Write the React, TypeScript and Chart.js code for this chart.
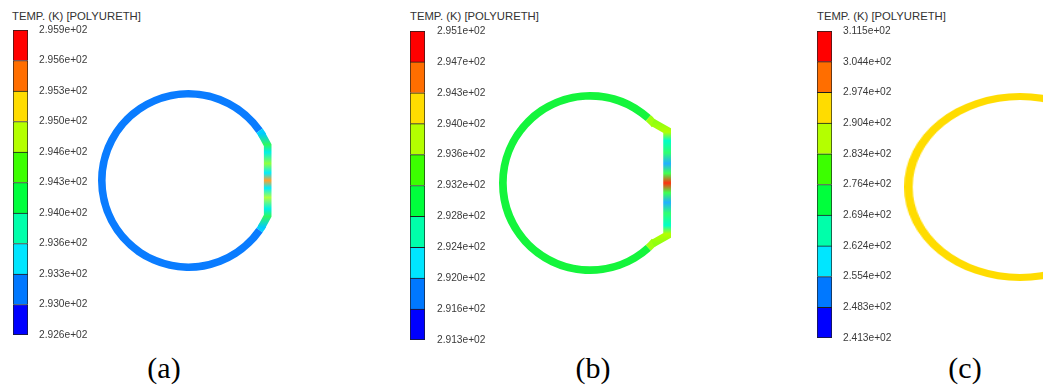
import React, { useEffect, useRef } from 'react';
import { Chart, registerables } from 'chart.js';

Chart.register(...registerables);

// ---------- DATA ----------
// colour bands of the legend, bottom -> top
const BAND_COLORS = ['#0000ff', '#0078ff', '#00e6ff', '#00ffaa', '#00ff3c', '#3cff00', '#b4ff00', '#ffdc00', '#ff6e00', '#ff0000'];
const BAND_VALUES = [1, 1, 1, 1, 1, 1, 1, 1, 1, 1];

// tick labels, top -> bottom
const LABELS_A = ['2.959e+02', '2.956e+02', '2.953e+02', '2.950e+02', '2.946e+02', '2.943e+02', '2.940e+02', '2.936e+02', '2.933e+02', '2.930e+02', '2.926e+02'];
const LABELS_B = ['2.951e+02', '2.947e+02', '2.943e+02', '2.940e+02', '2.936e+02', '2.932e+02', '2.928e+02', '2.924e+02', '2.920e+02', '2.916e+02', '2.913e+02'];
const LABELS_C = ['3.115e+02', '3.044e+02', '2.974e+02', '2.904e+02', '2.834e+02', '2.764e+02', '2.694e+02', '2.624e+02', '2.554e+02', '2.483e+02', '2.413e+02'];

const TITLE = 'TEMP. (K) [POLYURETH]';
const CAPTIONS = ['(a)', '(b)', '(c)'];

// ring segments (degrees, clockwise, starting with the open gap at the flat side)
const RING_A_SPANS = [62, 4, 290, 4];
const RING_A_COLORS = ['rgba(0,0,0,0)', '#00d0ff', '#0a7cff', '#00d0ff'];
const RING_B_SPANS = [84, 6, 264, 6];
const RING_B_COLORS = ['rgba(0,0,0,0)', '#a0ff10', '#14f53c', '#a0ff10'];
const RING_C_SPANS = [360];
const RING_C_COLORS = ['#ffdc00'];

// colours along the flat side (top -> bottom)
const FLAT_A_STOPS: [number, string][] = [
  [0, '#00c8ff'], [0.12, '#30f860'], [0.2, '#00f0e8'], [0.32, '#90ff40'], [0.42, '#00eeff'],
  [0.5, '#ffa030'], [0.58, '#00eeff'], [0.68, '#b0ff40'], [0.8, '#00f0e8'], [0.88, '#30f860'], [1, '#00c8ff'],
];
const FLAT_B_STOPS: [number, string][] = [
  [0, '#90ff10'], [0.08, '#b4ff00'], [0.15, '#00ffc8'], [0.25, '#30ff70'], [0.34, '#20b0ff'],
  [0.42, '#40ff50'], [0.5, '#ff3010'], [0.58, '#40ff50'], [0.66, '#20b0ff'], [0.75, '#30ff70'],
  [0.85, '#00ffc8'], [0.92, '#b4ff00'], [1, '#90ff10'],
];

// ---------- PLUGIN: flat (chord) side of the ring ----------
const chordPlugin = {
  id: 'chord',
  afterDatasetsDraw(chart: any, _args: any, opts: any) {
    if (!opts || !opts.enabled) return;
    const meta = chart.getDatasetMeta(0);
    const arc: any = meta.data[0];
    if (!arc) return;
    const { x, y, outerRadius: R, innerRadius: r, startAngle, endAngle } = arc.getProps(
      ['x', 'y', 'outerRadius', 'innerRadius', 'startAngle', 'endAngle'],
      true
    );
    const t = R - r;
    const rm = (R + r) / 2;
    const ext = (opts.overlap * Math.PI) / 180;
    const a0 = startAngle - ext;
    const a1 = endAngle + ext;
    const p0 = [x + rm * Math.cos(a0), y + rm * Math.sin(a0)];
    const cxl = x + R * opts.kx - t / 2;
    const p1 = [cxl, y - R * opts.ky];
    const p2 = [cxl, y + R * opts.ky];
    const p3 = [x + rm * Math.cos(a1), y + rm * Math.sin(a1)];
    const ctx = chart.ctx;
    const g = ctx.createLinearGradient(0, p0[1], 0, p3[1]);
    (opts.stops as [number, string][]).forEach(([o, c]) => g.addColorStop(o, c));
    ctx.save();
    ctx.strokeStyle = g;
    ctx.lineWidth = t;
    ctx.lineJoin = 'miter';
    ctx.lineCap = 'butt';
    ctx.beginPath();
    ctx.moveTo(p0[0], p0[1]);
    ctx.lineTo(p1[0], p1[1]);
    ctx.lineTo(p2[0], p2[1]);
    ctx.lineTo(p3[0], p3[1]);
    ctx.stroke();
    ctx.restore();
  },
};

// ---------- COMPONENTS ----------
type BarProps = { labels: string[]; left: number; top: number; height: number; pad: number };

function ColorBar({ labels, left, top, height, pad }: BarProps) {
  const ref = useRef<HTMLCanvasElement>(null);
  useEffect(() => {
    if (!ref.current) return;
    const chart = new Chart(ref.current, {
      type: 'bar',
      data: {
        labels: [''],
        datasets: BAND_COLORS.map((c, i) => ({
          data: [BAND_VALUES[i]],
          backgroundColor: c,
          borderColor: '#1e1e1e',
          borderWidth: { top: 1, left: 1, right: 1, bottom: i === 0 ? 1 : 0 },
          borderSkipped: false,
          barPercentage: 1,
          categoryPercentage: 1,
        })),
      },
      options: {
        animation: false,
        responsive: true,
        maintainAspectRatio: false,
        events: [],
        layout: { padding: { top: 8, bottom: 8, left: 0, right: 0 } },
        plugins: { legend: { display: false }, tooltip: { enabled: false } },
        scales: {
          x: { stacked: true, display: false },
          y: {
            stacked: true,
            position: 'right',
            min: 0,
            max: BAND_VALUES.length,
            grid: { display: false, drawTicks: false },
            border: { display: false },
            ticks: {
              stepSize: 1,
              autoSkip: false,
              padding: pad,
              color: '#3a3a3a',
              font: { family: 'Liberation Sans', size: 10.2 },
              callback: (v: any) => labels[BAND_VALUES.length - Number(v)],
            },
            afterFit: (s: any) => {
              s.width = 90;
              s.paddingTop = 0;
              s.paddingBottom = 0;
            },
          },
        },
      } as any,
    });
    return () => chart.destroy();
  }, []);
  return (
    <div style={{ position: 'absolute', left, top: top - 8, width: 105, height: height + 16 }}>
      <canvas ref={ref} />
    </div>
  );
}

type RingProps = {
  spans: number[];
  colors: string[];
  left: number;
  top: number;
  size: number;
  cutout: string;
  rotation: number;
  chord?: any;
  scaleX?: number;
};

function Ring({ spans, colors, left, top, size, cutout, rotation, chord, scaleX }: RingProps) {
  const ref = useRef<HTMLCanvasElement>(null);
  useEffect(() => {
    if (!ref.current) return;
    const chart = new Chart(ref.current, {
      type: 'doughnut',
      data: {
        labels: spans.map((_, i) => 's' + i),
        datasets: [{ data: spans, backgroundColor: colors, borderWidth: 0, hoverOffset: 0 }],
      },
      options: {
        animation: false,
        responsive: true,
        maintainAspectRatio: false,
        events: [],
        rotation,
        circumference: 360,
        cutout,
        layout: { padding: 0 },
        plugins: {
          legend: { display: false },
          tooltip: { enabled: false },
          chord: chord ? { enabled: true, ...chord } : { enabled: false },
        },
      } as any,
      plugins: [chordPlugin],
    });
    return () => chart.destroy();
  }, []);
  return (
    <div
      style={{
        position: 'absolute',
        left,
        top,
        width: size,
        height: size,
        transform: scaleX ? `scaleX(${scaleX})` : undefined,
        transformOrigin: 'center',
      }}
    >
      <canvas ref={ref} />
    </div>
  );
}

const titleStyle: React.CSSProperties = {
  position: 'absolute',
  top: 10,
  fontFamily: 'Liberation Sans',
  fontSize: 11.3,
  lineHeight: '12px',
  color: '#333',
  whiteSpace: 'nowrap',
};

const captionStyle: React.CSSProperties = {
  position: 'absolute',
  top: 353,
  width: 100,
  textAlign: 'center',
  fontFamily: 'Liberation Serif',
  fontSize: 30,
  lineHeight: '30px',
  color: '#000',
};

export default function App() {
  return (
    <div
      style={{
        position: 'absolute',
        left: 0,
        top: 0,
        width: 1043,
        height: 385,
        overflow: 'hidden',
        background: '#fff',
      }}
    >
      {/* panel (a) */}
      <div style={{ ...titleStyle, left: 12 }}>{TITLE}</div>
      <ColorBar labels={LABELS_A} left={13} top={30} height={305} pad={11} />
      <Ring
        spans={RING_A_SPANS}
        colors={RING_A_COLORS}
        left={98}
        top={90}
        size={181}
        cutout="91.6%"
        rotation={59}
        chord={{ kx: 0.917, ky: 0.39, overlap: 2, stops: FLAT_A_STOPS }}
      />
      <div style={{ ...captionStyle, left: 114 }}>{CAPTIONS[0]}</div>

      {/* panel (b) */}
      <div style={{ ...titleStyle, left: 410 }}>{TITLE}</div>
      <ColorBar labels={LABELS_B} left={410} top={31} height={309} pad={12} />
      <Ring
        spans={RING_B_SPANS}
        colors={RING_B_COLORS}
        left={499}
        top={92}
        size={182}
        cutout="91.5%"
        rotation={48}
        chord={{ kx: 0.89, ky: 0.576, overlap: 2, stops: FLAT_B_STOPS }}
      />
      <div style={{ ...captionStyle, left: 543 }}>{CAPTIONS[1]}</div>

      {/* panel (c) */}
      <div style={{ ...titleStyle, left: 817 }}>{TITLE}</div>
      <ColorBar labels={LABELS_C} left={817} top={31} height={307} pad={11} />
      <Ring
        spans={RING_C_SPANS}
        colors={RING_C_COLORS}
        left={926}
        top={93}
        size={188}
        cutout="92.5%"
        rotation={0}
        scaleX={1.234}
      />
      <div style={{ ...captionStyle, left: 915 }}>{CAPTIONS[2]}</div>
    </div>
  );
}
